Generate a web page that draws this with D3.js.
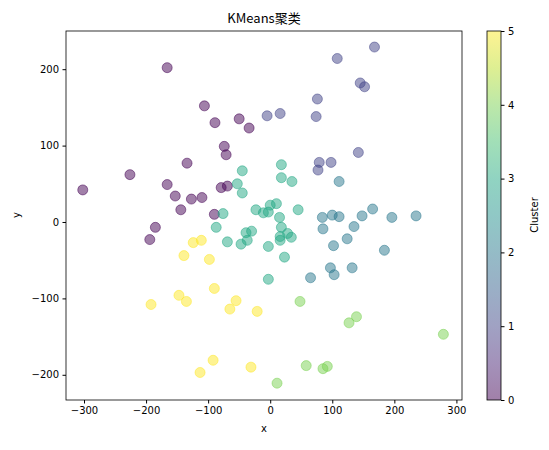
<!DOCTYPE html><html><head><meta charset="utf-8"><script src="https://cdn.jsdelivr.net/npm/d3@7"></script>
<style>body{margin:0;background:#fff}text{font-family:"DejaVu Sans",sans-serif}</style></head><body><svg id="c" width="549" height="450"></svg><script>
const xs0=[-302,-226,-166,-106,-89,-50,-34,-74,-71,-134,-166,-153,-127,-110,-79,-69,-144,-90,-185,-194];
const ys0=[42,62,202,152,130,135,123,99,88,77,49,34,30,32,45,47,16,10,-7,-23];
const xs1=[-5,16,74,76,108,168,145,152,142,79,77,98];
const ys1=[139,142,138,161,214,229,182,177,91,78,68,78];
const xs2=[111,165,235,196,148,84,100,111,85,135,124,102,184,65,97,103,132];
const ys2=[53,17,8,6,8,6,9,7,-9,-6,-22,-31,-37,-73,-60,-69,-60];
const xs3=[-45,18,18,35,-53,-45,-23,-11,0,10,45,-3,15,-76,-87,-69,-39,-37,-47,18,16,34,16,-3,23,-3,-30,28];
const ys3=[67,75,58,53,50,38,16,12,22,24,16,13,6,11,-7,-26,-14,-24,-29,-7,-19,-20,-24,-32,-46,-75,-12,-15];
const xs4=[48,139,127,279,58,85,92,11];
const ys4=[-104,-124,-132,-147,-188,-192,-189,-211];
const xs5=[-124,-111,-139,-98,-90,-147,-135,-55,-65,-21,-192,-92,-113,-31];
const ys5=[-27,-24,-44,-49,-87,-96,-104,-103,-114,-117,-108,-181,-197,-190];
const xTicks=[-300,-200,-100,0,100,200,300], yTicks=[-200,-100,0,100,200], cTicks=[0,1,2,3,4,5];
const groups=[[xs0,ys0],[xs1,ys1],[xs2,ys2],[xs3,ys3],[xs4,ys4],[xs5,ys5]];
const svg=d3.select("#c");
const x=d3.scaleLinear().domain([-329,309]).range([66,462]);
const y=d3.scaleLinear().domain([250,-233]).range([31,400]);
const col=t=>d3.interpolateViridis(t/5);
groups.forEach((g,k)=>{g[0].forEach((v,i)=>{svg.append("circle").attr("cx",x(v)).attr("cy",y(g[1][i])).attr("r",5).attr("fill",col(k)).attr("fill-opacity",0.5).attr("stroke",col(k)).attr("stroke-opacity",0.5).attr("stroke-width",1);});});
const gx=svg.append("g").attr("transform","translate(0,400)").call(d3.axisBottom(x).tickValues(xTicks).tickSize(3.5).tickPadding(3.5).tickFormat(d=>d<0?"−"+(-d):d));
const gy=svg.append("g").attr("transform","translate(66,0)").call(d3.axisLeft(y).tickValues(yTicks).tickSize(3.5).tickPadding(3.5).tickFormat(d=>d<0?"−"+(-d):d));
[gx,gy].forEach(g=>{g.select(".domain").remove();g.selectAll("text").attr("font-size",10).attr("fill","#000");g.selectAll("line").attr("stroke","#000");});
svg.append("rect").attr("x",66).attr("y",31).attr("width",396).attr("height",369).attr("fill","none").attr("stroke","#000").attr("stroke-width",0.8);
svg.append("text").attr("x",264).attr("y",432).attr("text-anchor","middle").attr("font-size",10).text("x");
svg.append("text").attr("transform","translate(20,215) rotate(-90)").attr("text-anchor","middle").attr("font-size",10).text("y");
svg.append("text").attr("x",264).attr("y",23).attr("text-anchor","middle").attr("font-size",13).style("font-family","'Noto Sans CJK SC',sans-serif").text("KMeans聚类");
const cy=d3.scaleLinear().domain([0,5]).range([400,31]);
const defs=svg.append("defs"),lg=defs.append("linearGradient").attr("id","vg").attr("x1",0).attr("y1",1).attr("x2",0).attr("y2",0);
d3.range(0,1.001,0.1).forEach(t=>lg.append("stop").attr("offset",t).attr("stop-color",d3.interpolateViridis(t)).attr("stop-opacity",0.5));
svg.append("rect").attr("x",487).attr("y",31).attr("width",14).attr("height",369).attr("fill","url(#vg)").attr("stroke","#000").attr("stroke-width",0.8);
const gc=svg.append("g").attr("transform","translate(501,0)").call(d3.axisRight(cy).tickValues(cTicks).tickSize(3.5).tickPadding(3.5).tickFormat(d3.format("d")));
gc.select(".domain").remove();gc.selectAll("text").attr("font-size",10).attr("fill","#000");
svg.append("text").attr("transform","translate(538,215) rotate(-90)").attr("text-anchor","middle").attr("font-size",10).text("Cluster");
</script></body></html>
